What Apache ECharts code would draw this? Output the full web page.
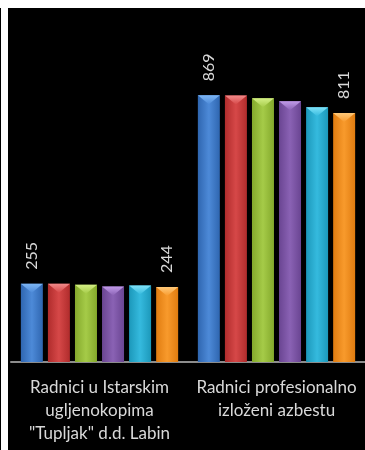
<!DOCTYPE html>
<html>
<head>
<meta charset="utf-8">
<script src="https://cdn.jsdelivr.net/npm/echarts@6/dist/echarts.min.js"></script>
<style>
    html, body { margin: 0; padding: 0; background: #ffffff; }
    #frame { position: absolute; left: 0; top: 8px; width: 1px; height: 442px; background: #000; }
    #main { position: absolute; left: 8px; top: 8px; width: 357px; height: 442px; background: #000; }
</style>
</head>
<body>
<div id="frame"></div>
<div id="main"></div>
<script>
// --------------------------------------------------------------
// Data
// --------------------------------------------------------------
const categories = [
    'Radnici u Istarskim\nugljenokopima\n"Tupljak" d.d. Labin',
    'Radnici profesionalno\nizloženi azbestu'
];
const seriesNames = ["S1", "S2", "S3", "S4", "S5", "S6"];
const s1 = [255, 869];
const s2 = [255, 868];
const s3 = [252, 859];
const s4 = [246, 849];
const s5 = [249, 830];
const s6 = [244, 811];
const allSeries = [s1, s2, s3, s4, s5, s6];
const labelledSeries = [0, 5];

// body colour (edge, centre) and bevel colour for each bar
const PALETTE = [
    { edge: "#2f66b0", mid: "#4d8ad8", top: "#7db6f5" },
    { edge: "#b02c2c", mid: "#d64848", top: "#f28a8a" },
    { edge: "#84a92c", mid: "#a5cb48", top: "#d4ef86" },
    { edge: "#6a4592", mid: "#8a62b4", top: "#c09ae8" },
    { edge: "#1c98ba", mid: "#35bade", top: "#7fe2f8" },
    { edge: "#e07c10", mid: "#f89a2c", top: "#ffc878" }
];

const BAR_W = 22;
const BAR_GAP = "23%";
const FONT = "Lato";

function bodyGradient(c) {
    return new echarts.graphic.LinearGradient(0, 0, 1, 0, [
        { offset: 0, color: c.edge },
        { offset: 0.5, color: c.mid },
        { offset: 1, color: c.edge }
    ]);
}

function bevelGradient(c) {
    return new echarts.graphic.LinearGradient(0, 0, 0, 1, [
        { offset: 0, color: c.top },
        { offset: 1, color: c.mid }
    ]);
}

// --------------------------------------------------------------
// Series
// --------------------------------------------------------------
const series = [];
allSeries.forEach((vals, i) => {
    const c = PALETTE[i];
    series.push({
        name: seriesNames[i],
        type: "bar",
        data: vals,
        barWidth: BAR_W,
        barGap: BAR_GAP,
        itemStyle: { color: bodyGradient(c) },
        label: {
            show: labelledSeries.includes(i),
            position: "top",
            rotate: 90,
            align: "left",
            verticalAlign: "middle",
            distance: 14,
            color: "#d9d9d9",
            fontFamily: FONT,
            fontSize: 16
        }
    });
});
allSeries.forEach((vals, i) => {
    series.push({
        name: seriesNames[i] + "-bevel",
        type: "pictorialBar",
        data: vals,
        barWidth: BAR_W,
        barGap: BAR_GAP,
        symbol: "path://M0,0L2,0L1,1Z",
        symbolSize: [BAR_W, 9],
        symbolPosition: "end",
        z: 3,
        silent: true,
        itemStyle: { color: bevelGradient(PALETTE[i]) }
    });
});

const chart = echarts.init(document.getElementById("main"));
chart.setOption({
    backgroundColor: "#000000",
    animation: false,
    grid: { left: 3, right: -4, top: 47, bottom: 88, containLabel: false },
    xAxis: {
        type: "category",
        data: categories,
        axisLine: { lineStyle: { color: "#8c8c8c", width: 2 } },
        axisTick: { show: false },
        axisLabel: {
            interval: 0,
            margin: 14,
            color: "#d9d9d9",
            fontFamily: FONT,
            fontSize: 17,
            lineHeight: 23
        }
    },
    yAxis: {
        type: "value",
        min: 0,
        max: 1000,
        show: false,
        splitLine: { show: false }
    },
    series: series
});
</script>
</body>
</html>
